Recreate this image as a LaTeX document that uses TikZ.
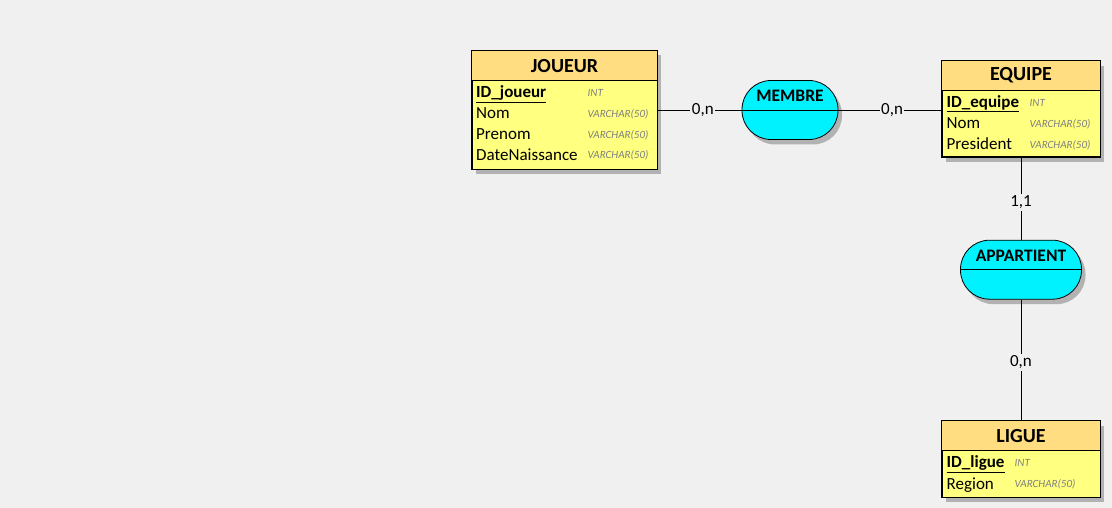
\documentclass[tikz,border=0pt]{standalone}
\usepackage{fontspec}
\setmainfont{Carlito}
\usetikzlibrary{shadows,calc}
\definecolor{bg}{HTML}{F0F0F0}
\definecolor{hdr}{HTML}{FFDD80}
\definecolor{body}{HTML}{FFFF80}
\definecolor{assocfill}{HTML}{00F2FF}
\definecolor{typegray}{HTML}{808080}
\tikzset{
  shadowed/.style={drop shadow={shadow xshift=4pt,shadow yshift=-5pt,fill=black!30,opacity=1}},
  entity/.style={rectangle,fill=body,draw=black,line width=0.8pt,shadowed,inner sep=0pt},
  assoc/.style={rectangle,rounded corners=29pt,fill=assocfill,draw=black,line width=0.8pt,shadowed,inner sep=0pt},
  title/.style={font=\fontsize{20}{22}\selectfont\bfseries,inner sep=0pt},
  asslabel/.style={font=\fontsize{17.5}{20}\selectfont\bfseries,inner sep=0pt},
  attr/.style={font=\fontsize{17}{19}\selectfont,anchor=base west,inner sep=0pt},
  typ/.style={font=\fontsize{11}{13}\selectfont\itshape,text=typegray,anchor=base west,inner sep=0pt},
  card/.style={font=\fontsize{17}{19}\selectfont,fill=bg,inner sep=1.5pt},
  link/.style={draw=black,line width=0.8pt},
}
\begin{document}
\begin{tikzpicture}[x=1pt,y=-1pt]
\useasboundingbox[fill=bg] (0,0) rectangle (1112,508);

% entities
\node[entity,minimum width=185pt,minimum height=119pt] (joueur) at (564.5,110) {};
\node[entity,minimum width=158pt,minimum height=96pt] (equipe) at (1021,108.6) {};
\node[entity,minimum width=158pt,minimum height=76pt] (ligue) at (1021,459) {};

\foreach \e in {joueur,equipe,ligue}{
  \fill[hdr] (\e.north west) rectangle ($(\e.north east)+(0,30)$);
  \draw[line width=0.8pt] ($(\e.north west)+(0,30)$) -- ($(\e.north east)+(0,30)$);
  \draw[line width=0.8pt] (\e.north west) rectangle (\e.south east);
}

% associations
\node[assoc,minimum width=96pt,minimum height=59pt] (membre) at (790,110) {};
\node[assoc,minimum width=121pt,minimum height=59pt] (appartient) at (1021,269.7) {};
\draw[line width=0.8pt] (membre.west) -- (membre.east);
\draw[line width=0.8pt] (appartient.west) -- (appartient.east);
\node[asslabel] (membreT) at ($(membre.center)+(0,-14)$) {MEMBRE};
\node[asslabel] (appartientT) at ($(appartient.center)+(0,-14)$) {APPARTIENT};

% connectors
\draw[link] (joueur.east) -- node[card,pos=0.54] (c1) {0,n} (membre.west);
\draw[link] (membre.east) -- node[card,pos=0.52] (c2) {0,n} (membre.east -| equipe.west);
\draw[link] (equipe.south) -- node[card,pos=0.55] (c3) {1,1} (appartient.north);
\draw[link] (appartient.south) -- node[card,pos=0.52] (c4) {0,n} (ligue.north);

% JOUEUR texts
\node[title] (joueurT) at ($(joueur.north)+(0,15.5)$) {JOUEUR};
\node[attr] (j1) at (476,98) {\underline{\textbf{ID\_joueur}}};
\node[attr] (j2) at (476,119) {Nom};
\node[attr] (j3) at (476,139.5) {Prenom};
\node[attr] (j4) at (476,160.3) {DateNaissance};
\node[typ] (jt1) at (587.5,96.5) {INT};
\node[typ] (jt2) at (587.5,117.8) {VARCHAR(50)};
\node[typ] (jt3) at (587.5,138.5) {VARCHAR(50)};
\node[typ] (jt4) at (587.5,159) {VARCHAR(50)};

% EQUIPE texts
\node[title] (equipeT) at ($(equipe.north)+(0,15)$) {EQUIPE};
\node[attr] (e1) at (946.5,107.5) {\underline{\textbf{ID\_equipe}}};
\node[attr] (e2) at (946.5,129) {Nom};
\node[attr] (e3) at (946.5,149.5) {President};
\node[typ] (et1) at (1029.5,106.5) {INT};
\node[typ] (et2) at (1029.5,127.8) {VARCHAR(50)};
\node[typ] (et3) at (1029.5,148.5) {VARCHAR(50)};

% LIGUE texts
\node[title] (ligueT) at ($(ligue.north)+(0,15)$) {LIGUE};
\node[attr] (l1) at (946.5,467.5) {\underline{\textbf{ID\_ligue}}};
\node[attr] (l2) at (946.5,489) {Region};
\node[typ] (lt1) at (1014.5,466.5) {INT};
\node[typ] (lt2) at (1014.5,487.8) {VARCHAR(50)};
\end{tikzpicture}
\end{document}
